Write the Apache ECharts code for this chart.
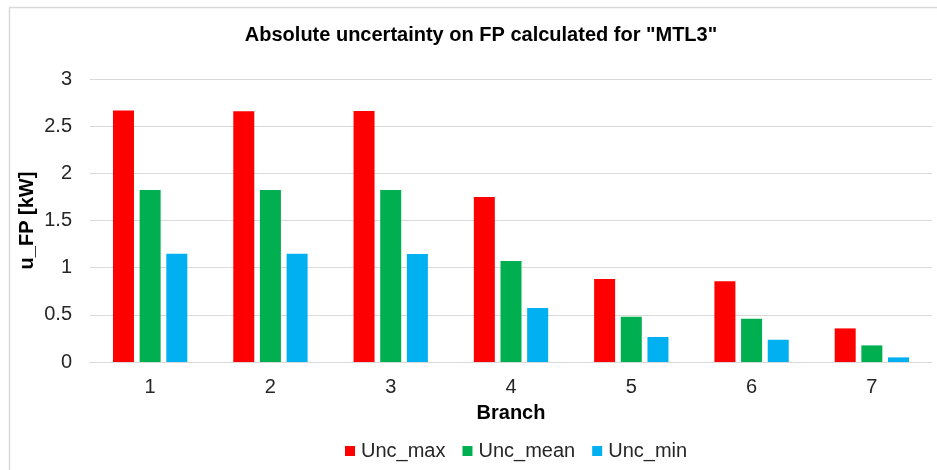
<!DOCTYPE html>
<html>
<head>
<meta charset="utf-8">
<script src="https://cdn.jsdelivr.net/npm/echarts@6/dist/echarts.min.js"></script>
<style>
    html, body { margin: 0; padding: 0; background: #fff; }
    #chart { width: 937px; height: 470px; }
</style>
</head>
<body>
<div id="chart"></div>
<script>
    const branches = ['1', '2', '3', '4', '5', '6', '7'];
    const uncMax = [2.667, 2.657, 2.66, 1.749, 0.88, 0.855, 0.356];
    const uncMean = [1.823, 1.823, 1.823, 1.071, 0.48, 0.459, 0.176];
    const uncMin = [1.148, 1.148, 1.145, 0.572, 0.265, 0.236, 0.049];

    const font = 'Liberation Sans, Arial, sans-serif';
    const chart = echarts.init(document.getElementById('chart'));

    const bar = (name, data, color) => ({
        name: name,
        type: 'bar',
        data: data,
        barWidth: 21,
        barGap: '27%',
        barCategoryGap: '38%',
        itemStyle: { color: color },
        emphasis: { disabled: true }
    });

    chart.setOption({
        animation: false,
        textStyle: { fontFamily: font },
        graphic: [{
            type: 'rect',
            shape: { x: 9.5, y: 7.5, width: 1000, height: 1000 },
            style: { fill: 'none', stroke: '#d9d9d9', lineWidth: 1.5 },
            silent: true
        }],
        title: {
            text: 'Absolute uncertainty on FP calculated for "MTL3"',
            left: 476,
            textAlign: 'center',
            top: 20,
            textStyle: { fontFamily: font, fontSize: 20, fontWeight: 'bold', color: '#000' }
        },
        legend: {
            data: ['Unc_max', 'Unc_mean', 'Unc_min'],
            left: 340,
            top: 436,
            itemWidth: 10,
            itemHeight: 10,
            itemGap: 17,
            icon: 'rect',
            textStyle: { fontFamily: font, fontSize: 20, color: '#262626', padding: [0, 0, 0, 1] }
        },
        grid: { left: 90, right: 5, top: 79, bottom: 108 },
        xAxis: {
            type: 'category',
            data: branches,
            name: 'Branch',
            nameLocation: 'middle',
            nameGap: 41,
            nameMoveOverlap: false,
            nameTextStyle: { fontFamily: font, fontSize: 20, fontWeight: 'bold', color: '#000' },
            axisLine: { lineStyle: { color: '#d9d9d9' } },
            axisTick: { show: false },
            axisLabel: { fontFamily: font, fontSize: 20, color: '#262626', margin: 15 }
        },
        yAxis: {
            type: 'value',
            min: 0,
            max: 3,
            interval: 0.5,
            name: 'u_FP [kW]',
            nameLocation: 'middle',
            nameGap: 53,
            nameMoveOverlap: false,
            nameTextStyle: { fontFamily: font, fontSize: 20, fontWeight: 'bold', color: '#000' },
            axisLabel: { fontFamily: font, fontSize: 20, color: '#262626', margin: 18 },
            splitLine: { lineStyle: { color: '#d9d9d9' } }
        },
        series: [
            bar('Unc_max', uncMax, '#ff0000'),
            bar('Unc_mean', uncMean, '#00b050'),
            bar('Unc_min', uncMin, '#00b0f0')
        ]
    });
</script>
</body>
</html>
